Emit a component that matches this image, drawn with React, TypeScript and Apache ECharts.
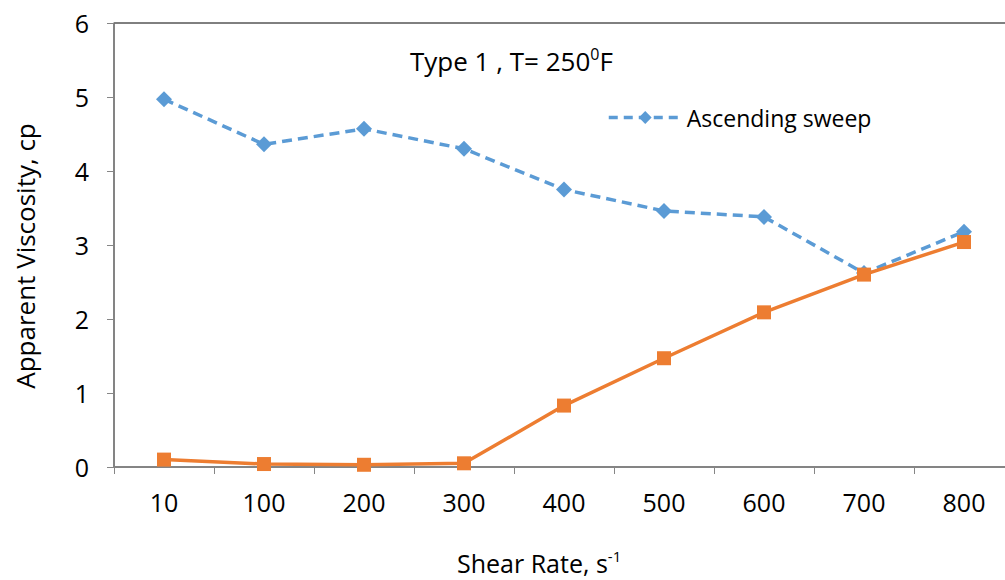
import React, { useEffect, useRef } from "react";
import * as echarts from "echarts";

const categories = ["10", "100", "200", "300", "400", "500", "600", "700", "800"];
const ascending = [4.97, 4.36, 4.57, 4.3, 3.75, 3.46, 3.38, 2.62, 3.18];
const descending = [0.1, 0.04, 0.03, 0.05, 0.83, 1.47, 2.09, 2.6, 3.04];
const yTicks = [0, 1, 2, 3, 4, 5, 6];

const FONT = "'Open Sans', sans-serif";

export default function App() {
  const ref = useRef<HTMLDivElement>(null);
  useEffect(() => {
    if (!ref.current) return;
    const chart = echarts.init(ref.current, null, { renderer: "svg" });
    chart.setOption({
      animation: false,
      backgroundColor: "#ffffff",
      textStyle: { fontFamily: FONT },
      grid: {
        left: 114,
        right: -9,
        top: 23,
        bottom: 113,
        outerBoundsMode: "none",
        containLabel: false,
        show: true,
        borderColor: "#000000",
        borderWidth: 1,
        backgroundColor: "transparent",
      },
      legend: {
        show: true,
        left: 602,
        top: 101,
        data: [{ name: "Ascending sweep" }],
        itemWidth: 73,
        itemHeight: 16,
        lineStyle: { width: 3.5, type: [9, 6] },
        textStyle: { fontSize: 23, color: "#000", fontFamily: FONT },
      },
      graphic: [
        {
          type: "text",
          left: 410,
          top: 46,
          style: {
            text: "{n|Type 1 , T= 250}{s|0}{n|F}",
            rich: {
              n: { fontSize: 26, fontFamily: FONT, fill: "#000", verticalAlign: "bottom" },
              s: { fontSize: 16, fontFamily: FONT, fill: "#000", verticalAlign: "top", padding: [0, 0, 12, 0] },
            },
          },
        },
        {
          type: "text",
          left: 457,
          top: 548,
          style: {
            text: "{n|Shear Rate, s}{s|-1}",
            rich: {
              n: { fontSize: 25, fontFamily: FONT, fill: "#000" },
              s: { fontSize: 15, fontFamily: FONT, fill: "#000", padding: [0, 0, 14, 0] },
            },
          },
        },
        {
          type: "text",
          x: 25,
          y: 256,
          rotation: Math.PI / 2,
          style: {
            text: "Apparent Viscosity, cp",
            fontSize: 26,
            fontFamily: FONT,
            fill: "#000",
            align: "center",
            verticalAlign: "middle",
          },
        },
      ],
      xAxis: {
        type: "category",
        data: categories,
        boundaryGap: true,
        axisLine: { lineStyle: { color: "#868686", width: 1.5 } },
        axisTick: { show: true, length: 7, lineStyle: { color: "#868686" } },
        axisLabel: { fontSize: 25, color: "#000", margin: 22, fontFamily: FONT },
        splitLine: { show: false },
      },
      yAxis: {
        type: "value",
        min: 0,
        max: 6,
        interval: 1,
        axisLine: { show: true, lineStyle: { color: "#868686", width: 1.5 } },
        axisTick: { show: true, length: 7, lineStyle: { color: "#868686" } },
        axisLabel: {
          fontSize: 25,
          color: "#000",
          margin: 25,
          fontFamily: FONT,
          formatter: (v: number) => (yTicks.includes(v) ? String(v) : ""),
        },
        splitLine: { show: false },
      },
      series: [
        {
          name: "Ascending sweep",
          type: "line",
          data: ascending,
          symbol: "diamond",
          symbolSize: 16,
          itemStyle: { color: "#5B9BD5" },
          lineStyle: { color: "#5B9BD5", width: 3.5, type: [10, 6] },
          z: 2,
        },
        {
          name: "Descending sweep",
          type: "line",
          data: descending,
          symbol: "rect",
          symbolSize: 14,
          itemStyle: { color: "#ED7D31" },
          lineStyle: { color: "#ED7D31", width: 3.5 },
          z: 3,
        },
      ],
    });
    return () => chart.dispose();
  }, []);
  return (
    <div
      ref={ref}
      style={{ position: "fixed", left: 0, top: 0, width: 1005, height: 580, background: "#fff" }}
    />
  );
}
